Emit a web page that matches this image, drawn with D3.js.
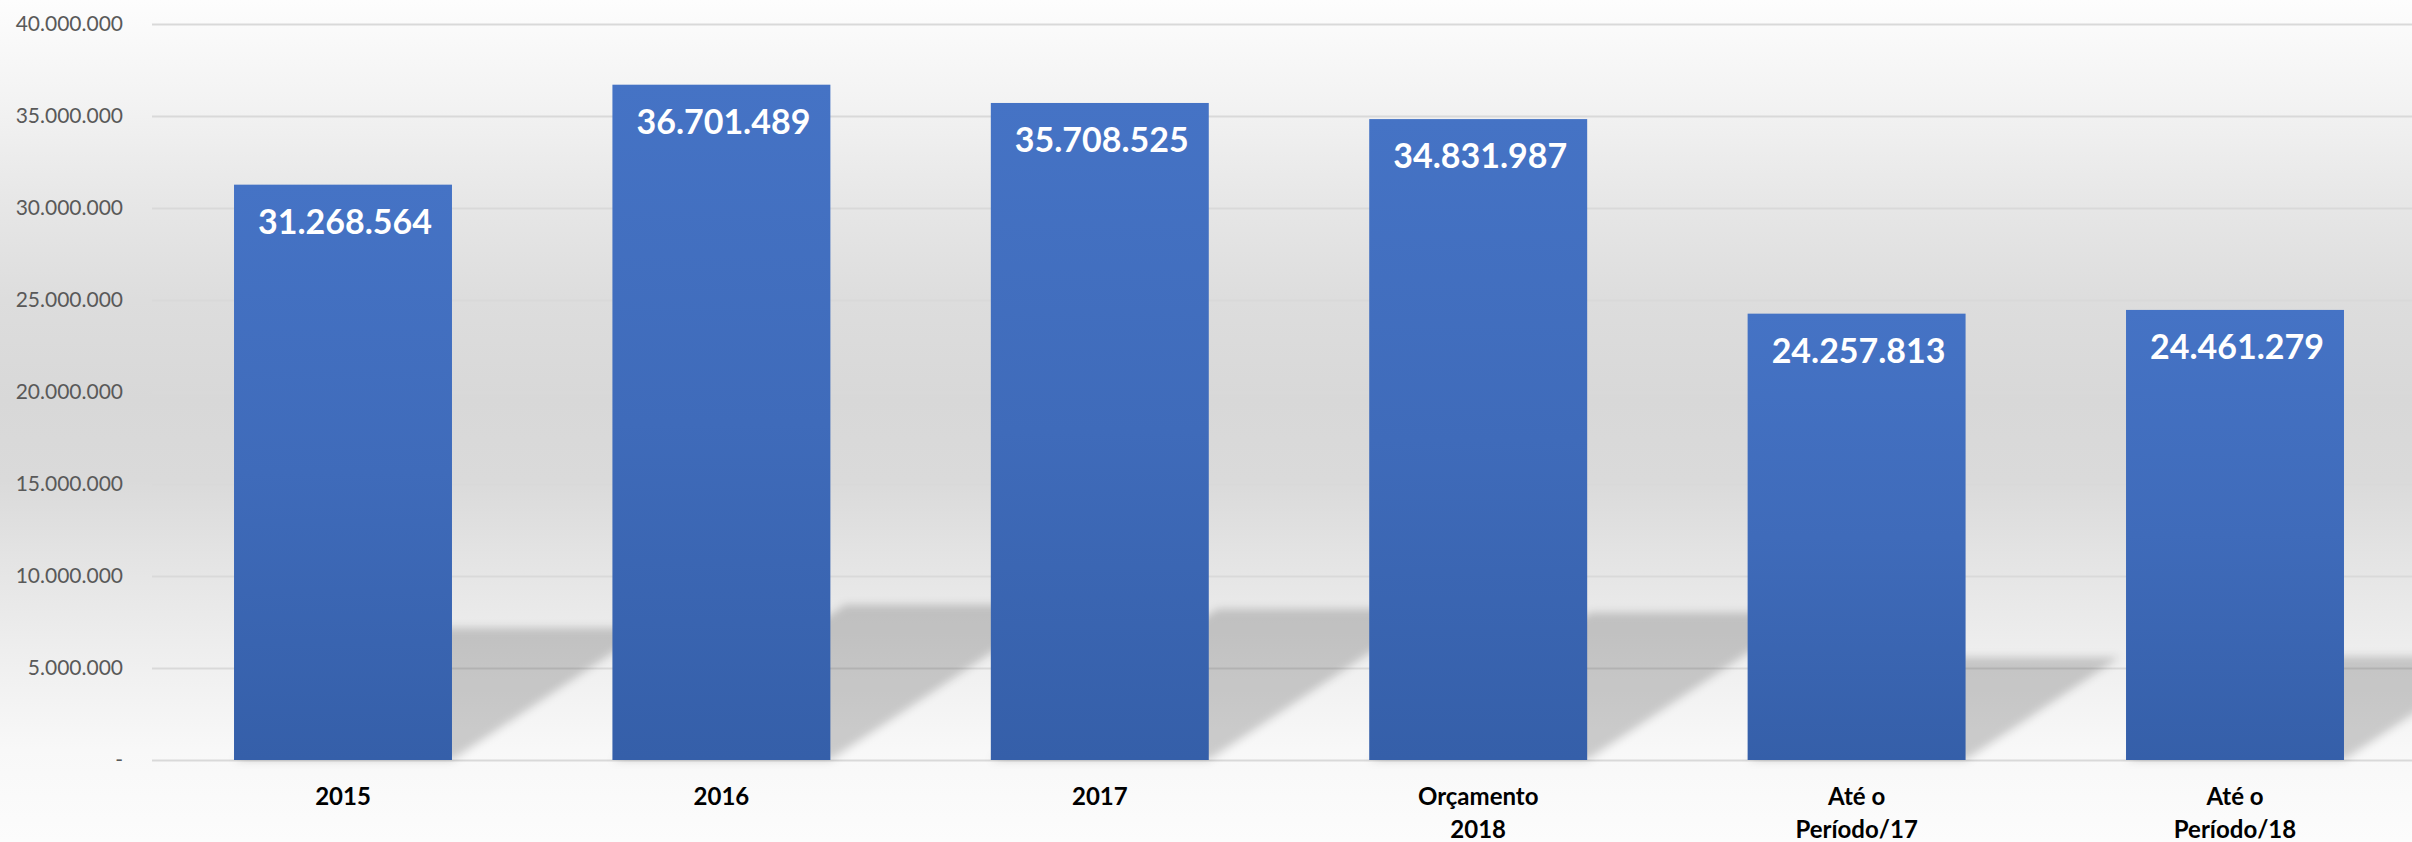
<!DOCTYPE html>
<html>
<head>
<meta charset="utf-8">
<script src="https://cdn.jsdelivr.net/npm/d3@7"></script>
<style>
  html, body { margin: 0; padding: 0; background: #ffffff; }
  svg { display: block; }
</style>
</head>
<body>
<svg id="chart" width="2412" height="842"></svg>
<script>
// ---- data ----
const categories = ["2015", "2016", "2017", "Orçamento\n2018", "Até o\nPeríodo/17", "Até o\nPeríodo/18"];
const values = [31268564, 36701489, 35708525, 34831987, 24257813, 24461279];
const yTicks = [0, 5000000, 10000000, 15000000, 20000000, 25000000, 30000000, 35000000, 40000000];

// ---- setup ----
const W = 2412, H = 842;
const plotLeft = 152, plotRight = 2412;
const svg = d3.select("#chart");
const ptBR = d3.formatLocale({ decimal: ",", thousands: ".", grouping: [3], currency: ["R$ ", ""] });
const fmt = ptBR.format(",d");

const x = d3.scaleBand().domain(categories).range([153.8, 2424.2]).paddingInner(0.424).paddingOuter(0.212);
const y = d3.scaleLinear().domain([0, 40000000]).range([760, 24]);

const defs = svg.append("defs");
const bg = defs.append("linearGradient").attr("id", "bg").attr("gradientUnits", "userSpaceOnUse")
  .attr("x1", 0).attr("y1", 0).attr("x2", 0).attr("y2", H);
[[0, "#fdfdfd"], [100, "#f3f3f3"], [200, "#e7e7e7"], [300, "#dddddd"], [400, "#d8d8d8"],
 [480, "#dadada"], [560, "#e4e4e4"], [660, "#efefef"], [750, "#f8f8f8"], [842, "#fcfcfc"]]
  .forEach(([o, c]) => bg.append("stop").attr("offset", o / H).attr("stop-color", c));

const barGrad = defs.append("linearGradient").attr("id", "barGrad").attr("x1", 0).attr("y1", 0).attr("x2", 0).attr("y2", 1);
barGrad.append("stop").attr("offset", 0).attr("stop-color", "#4573C5");
barGrad.append("stop").attr("offset", 0.5).attr("stop-color", "#3F6BBA");
barGrad.append("stop").attr("offset", 1).attr("stop-color", "#355FA9");

const blur = defs.append("filter").attr("id", "blur").attr("x", "-20%").attr("y", "-20%").attr("width", "140%").attr("height", "140%");
blur.append("feGaussianBlur").attr("stdDeviation", 4);

svg.append("rect").attr("width", W).attr("height", H).attr("fill", "url(#bg)");

// gridlines
const grid = svg.append("g").attr("transform", `translate(${plotLeft},0)`)
  .call(d3.axisLeft(y).tickValues(yTicks).tickSize(-(plotRight - plotLeft)).tickFormat(""));
grid.select(".domain").remove();
grid.selectAll("line").attr("stroke", "#d9d9d9").attr("stroke-width", 2);

// y labels
const yAxis = svg.append("g").attr("transform", `translate(${plotLeft},0)`)
  .call(d3.axisLeft(y).tickValues(yTicks).tickSize(0).tickPadding(29).tickFormat(d => d === 0 ? "-" : fmt(d)));
yAxis.select(".domain").remove();
yAxis.selectAll("text").attr("font-family", "Lato, 'Open Sans', sans-serif").attr("font-size", 21)
  .attr("fill", "#595959");

// shadows
const base = y(0);
svg.append("g").attr("filter", "url(#blur)")
  .selectAll("path").data(values).join("path")
  .attr("d", (v, i) => {
    const x0 = x(categories[i]), x1 = x0 + x.bandwidth();
    const h = (base - y(v)) * 0.23, s = h * 1.5;
    return `M${x0},${base}L${x1},${base}L${x1 + s},${base - h}L${x0 + s},${base - h}Z`;
  })
  .attr("fill", "#000").attr("fill-opacity", 0.18);

// bars
svg.append("g").selectAll("rect").data(values).join("rect")
  .attr("x", (v, i) => x(categories[i]))
  .attr("y", v => y(v))
  .attr("width", x.bandwidth())
  .attr("height", v => base - y(v))
  .attr("fill", "url(#barGrad)");

// value labels
svg.append("g").selectAll("text").data(values).join("text")
  .attr("x", (v, i) => x(categories[i]) + x.bandwidth() / 2 + 2)
  .attr("y", v => y(v) + 49)
  .attr("text-anchor", "middle")
  .attr("font-family", "Lato, 'Open Sans', sans-serif").attr("font-weight", "bold").attr("font-size", 34)
  .attr("fill", "#ffffff")
  .text(v => fmt(v));

// x axis labels
const xAxis = svg.append("g").attr("transform", `translate(0,${base})`)
  .call(d3.axisBottom(x).tickSize(0).tickPadding(0).tickFormat(""));
xAxis.select(".domain").remove();
xAxis.selectAll(".tick").each(function (d) {
  const t = d3.select(this).append("text")
    .attr("text-anchor", "middle")
    .attr("font-family", "Lato, 'Open Sans', sans-serif").attr("font-weight", "bold").attr("font-size", 24)
    .attr("fill", "#000000");
  d.split("\n").forEach((line, k) => {
    t.append("tspan").attr("x", 0).attr("y", 45 + k * 33).text(line);
  });
});
</script>
</body>
</html>
